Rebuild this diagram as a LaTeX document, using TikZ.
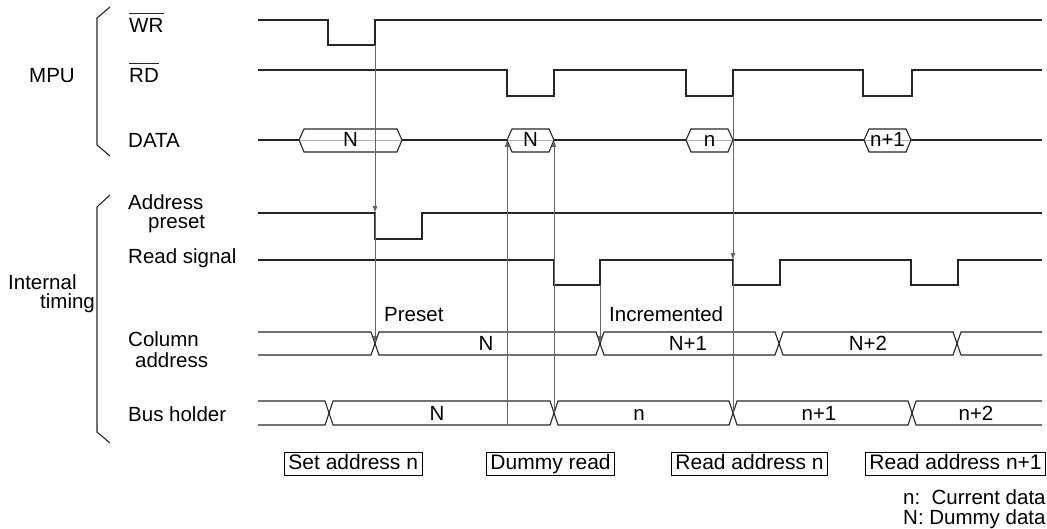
\documentclass[tikz,border=0pt]{standalone}
\usepackage{fontspec}
\setmainfont{Liberation Sans}
\usetikzlibrary{arrows.meta}
\begin{document}
\begin{tikzpicture}[x=1pt,y=-1pt,
  sig/.style={line width=1.1pt, black!85, line join=miter},
  conn/.style={line width=0.8pt, black!60},
  thinline/.style={line width=0.6pt, black!30},
  brc/.style={line width=1.1pt, black!85},
  barline/.style={line width=0.8pt, black!85},
  tip/.style={-{Latex[length=7pt,width=5pt]}},
  lbl/.style={anchor=base west, inner sep=0pt, font=\fontsize{20.5}{24}\selectfont},
  mid/.style={anchor=base, inner sep=0pt, font=\fontsize{20.5}{24}\selectfont},
  stepbox/.style={draw, line width=0.9pt, anchor=west, inner xsep=4pt, inner ysep=2pt,
    text height=15pt, text depth=4.5pt, font=\fontsize{21}{24}\selectfont}]
\useasboundingbox (0,0) rectangle (1047,529);

% ---------- braces and group labels
\draw[brc] (110,7) -- (97,18) -- (97,145) -- (110,156);
\draw[brc] (110,195) -- (97,207) -- (97,432) -- (110,443);
\node[lbl] (mpu) at (29,83) {MPU};
\node[lbl] (int1) at (8,290) {Internal};
\node[lbl] (int2) at (40,309) {timing};

% ---------- signal labels
\node[lbl] (lwr) at (129,33) {WR};
\draw[barline] ([yshift=5pt]lwr.north west) -- ([yshift=5pt]lwr.north east);
\node[lbl] (lrd) at (129,83) {RD};
\draw[barline] ([yshift=5pt]lrd.north west) -- ([yshift=5pt]lrd.north east);
\node[lbl] (ldata) at (128,148) {DATA};
\node[lbl] (lap1) at (128,210) {Address};
\node[lbl] (lap2) at (148,229) {preset};
\node[lbl] (lrs) at (128,264) {Read signal};
\node[lbl] (lca1) at (128,347) {Column};
\node[lbl] (lca2) at (135,367) {address};
\node[lbl] (lbh) at (128,421) {Bus holder};

% ---------- WR
\draw[sig] (258,20) -- (328,20) |- (375,45) |- (1042,20);
% ---------- RD
\draw[sig] (258,70) -- (507,70) |- (554,96) |- (686,70) |- (733,96) |- (863,70) |- (912,96) |- (1042,70);

% ---------- DATA
\draw[thinline] (258,140) -- (1042,140);
\draw[sig] (258,140) -- (299,140);
\draw[sig] (402,140) -- (507,140);
\draw[sig] (554,140) -- (686,140);
\draw[sig] (733,140) -- (864,140);
\draw[sig] (911,140) -- (1042,140);
\newcommand\hexbox[3]{%
  \draw[sig] (#1,140) -- (#1+5,129) -- (#2-5,129) -- (#2,140) -- (#2-5,152) -- (#1+5,152) -- cycle;
  \node[mid] at ({(#1+#2)/2},147) {#3};}
\hexbox{299}{402}{N}
\hexbox{507}{554}{N}
\hexbox{686}{733}{n}
\hexbox{864}{911}{n+1}

% ---------- Address preset
\draw[sig] (258,213) -- (375,213) |- (422,239) |- (1042,213);
% ---------- Read signal
\draw[sig] (258,260) -- (554,260) |- (600,285) |- (733,260) |- (780,285) |- (911,260) |- (958,285) |- (1042,260);

% ---------- Column address
\draw[sig] (258,332) -- (371,332) -- (379,355) -- (596,355) -- (604,332) -- (775,332) -- (783,355) -- (953,355) -- (961,332) -- (1042,332);
\draw[sig] (258,355) -- (371,355) -- (379,332) -- (596,332) -- (604,355) -- (775,355) -- (783,332) -- (953,332) -- (961,355) -- (1042,355);
\node[mid] at (486,351) {N};
\node[mid] at (688,351) {N+1};
\node[mid] at (868,351) {N+2};
\node[lbl] (preset) at (384,322) {Preset};
\node[lbl] (incr) at (609,322) {Incremented};

% ---------- Bus holder
\draw[sig] (258,401) -- (325,401) -- (333,425) -- (550,425) -- (558,401) -- (729,401) -- (737,425) -- (908,425) -- (916,401) -- (1042,401);
\draw[sig] (258,425) -- (325,425) -- (333,401) -- (550,401) -- (558,425) -- (729,425) -- (737,401) -- (908,401) -- (916,425) -- (1042,425);
\node[mid] at (437,420) {N};
\node[mid] at (639,420) {n};
\node[mid] at (819,420) {n+1};
\node[mid] at (976,420) {n+2};

% ---------- connectors
\coordinate (wrrise) at (375,45);
\coordinate (apfall) at (375,213);
\coordinate (cacross1) at (375,343);
\draw[conn,tip] (wrrise) -- (apfall);
\draw[conn,tip] (apfall) -- (cacross1);

\coordinate (bhA) at (507,425);
\coordinate (dA) at (507,140);
\draw[conn,tip] (bhA) -- (dA);
\coordinate (bhB) at (554,413);
\coordinate (dB) at (554,140);
\draw[conn,tip] (bhB) -- (dB);

\coordinate (rsrise) at (600,285);
\coordinate (cacross2) at (600,343);
\draw[conn,tip] (rsrise) -- (cacross2);

\coordinate (rdrise) at (733,96);
\coordinate (rsfall) at (733,260);
\coordinate (bhC) at (733,413);
\draw[conn,tip] (rdrise) -- (rsfall);
\draw[conn] (rsfall) -- (bhC);

% ---------- bottom step boxes
\node[stepbox] (s1) at (284,464) {Set address n};
\node[stepbox] (s2) at (486,464) {Dummy read};
\node[stepbox] (s3) at (671,464) {Read address n};
\node[stepbox] (s4) at (865,464) {Read address n+1};

\node[lbl] (note1) at (903,504) {n:\ \ Current data};
\node[lbl] (note2) at (903,524) {N: Dummy data};
\end{tikzpicture}
\end{document}
